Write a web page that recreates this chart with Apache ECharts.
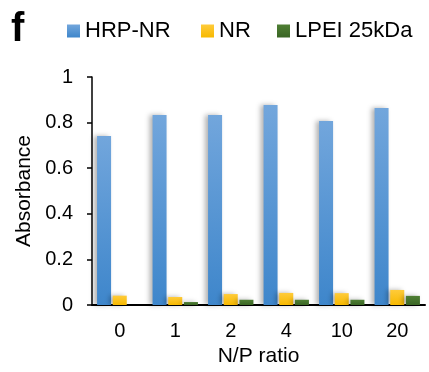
<!DOCTYPE html>
<html>
<head>
<meta charset="UTF-8">
<title></title>
<style>html,body{margin:0;padding:0;background:#fff;}</style>
</head>
<body>
<div id="echart" style="width:429px;height:372px;"></div>
<script src="https://cdn.jsdelivr.net/npm/echarts@6/dist/echarts.min.js"></script>
<script type="text/javascript">
var categories = ['0', '1', '2', '4', '10', '20'];
var hrpNr = [0.741, 0.833, 0.833, 0.877, 0.807, 0.864];
var nr = [0.041, 0.035, 0.048, 0.053, 0.052, 0.066];
var lpei = [0, 0.013, 0.023, 0.023, 0.023, 0.040];
var yTicks = [0, 0.2, 0.4, 0.6, 0.8, 1];

var font = 'Liberation Sans, Arial, sans-serif';

function grad(top, bottom) {
	return new echarts.graphic.LinearGradient(0, 0, 0, 1, [
		{offset: 0, color: top},
		{offset: 1, color: bottom}
	]);
}

function barStyle(top, bottom) {
	return {
		color: grad(top, bottom),
		shadowColor: 'rgba(0,0,0,0.3)',
		shadowBlur: 5,
		shadowOffsetX: -3,
		shadowOffsetY: 0
	};
}

// 每个图例单独定位
function legendAt(name, left) {
	return {
		top: 15,
		left: left,
		itemWidth: 13,
		itemHeight: 13,
		itemGap: 0,
		icon: 'rect',
		textStyle: {fontSize: 22, color: '#000', fontFamily: font, padding: [0, 0, 0, 0]},
		data: [name]
	};
}

var myChart = echarts.init(document.getElementById('echart'));
myChart.setOption({
	animation: false,
	textStyle: {fontFamily: font},
	graphic: [{
		type: 'text',
		left: 11,
		top: 10,
		style: {text: 'f', font: 'bold 40px ' + font, fill: '#000'}
	}],
	legend: [
		legendAt('HRP-NR', 62),
		legendAt('NR', 196),
		legendAt('LPEI 25kDa', 272)
	],
	grid: {left: 92, right: 4, top: 77, bottom: 67},
	xAxis: {
		type: 'category',
		data: categories,
		name: 'N/P ratio',
		nameLocation: 'middle',
		nameGap: 40,
		nameTextStyle: {fontSize: 21, color: '#000'},
		axisLine: {lineStyle: {color: '#000', width: 2}},
		axisTick: {show: false},
		axisLabel: {fontSize: 20, color: '#000', margin: 16}
	},
	yAxis: {
		type: 'value',
		min: 0,
		max: 1,
		interval: 0.2,
		name: 'Absorbance',
		nameLocation: 'middle',
		nameGap: 53,
		nameTextStyle: {fontSize: 21, color: '#000'},
		axisLine: {show: true, lineStyle: {color: '#000', width: 1.5}},
		axisTick: {show: true, length: 5, lineStyle: {color: '#000', width: 1.5}},
		splitLine: {show: false},
		axisLabel: {
			fontSize: 20, color: '#000', margin: 19,
			formatter: function(v) {
				for (var i = 0; i < yTicks.length; i++) {
					if (Math.abs(yTicks[i] - v) < 1e-9) return String(yTicks[i]);
				}
				return '';
			}
		}
	},
	series: [{
		name: 'HRP-NR',
		type: 'bar',
		data: hrpNr,
		barWidth: 14,
		barGap: '12%',
		itemStyle: barStyle('#72a6dc', '#3e86cb')
	}, {
		name: 'NR',
		type: 'bar',
		data: nr,
		barWidth: 14,
		itemStyle: barStyle('#ffcb3a', '#f7b900')
	}, {
		name: 'LPEI 25kDa',
		type: 'bar',
		data: lpei,
		barWidth: 14,
		itemStyle: barStyle('#4f7f34', '#3a6524')
	}]
});
</script>
</body>
</html>
